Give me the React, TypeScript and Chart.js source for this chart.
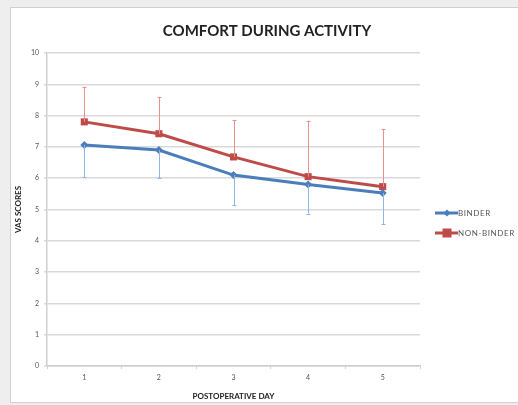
import React, { useEffect, useRef } from "react";
import { Chart, registerables } from "chart.js";

Chart.register(...registerables);

const days = ["1", "2", "3", "4", "5"];
const binder = [7.06, 6.9, 6.1, 5.8, 5.53];
const nonBinder = [7.8, 7.42, 6.68, 6.05, 5.73];
const binderLower = [6.04, 6.0, 5.14, 4.87, 4.54];
const nonBinderUpper = [8.92, 8.6, 7.86, 7.84, 7.57];

const BLUE = "#4a7ebb";
const RED = "#be4b48";
const FONT = "Lato, 'Open Sans', sans-serif";

const errorBarPlugin = {
  id: "errorBars",
  afterDatasetsDraw(chart: any) {
    const ctx = chart.ctx;
    const x = chart.scales.x;
    const y = chart.scales.y;
    const draw = (vals: number[], ends: number[], color: string) => {
      ctx.save();
      ctx.strokeStyle = color;
      ctx.lineWidth = 1;
      vals.forEach((v, i) => {
        const px = Math.round(x.getPixelForValue(i)) + 0.5;
        const y0 = y.getPixelForValue(v);
        const y1 = y.getPixelForValue(ends[i]);
        ctx.beginPath();
        ctx.moveTo(px, y0);
        ctx.lineTo(px, y1);
        ctx.moveTo(px - 2, Math.round(y1) + 0.5);
        ctx.lineTo(px + 2, Math.round(y1) + 0.5);
        ctx.stroke();
      });
      ctx.restore();
    };
    draw(binder, binderLower, "#8fb4ec");
    draw(nonBinder, nonBinderUpper, "#ec8f8f");
  },
};

const titlePlugin = {
  id: "customTitle",
  afterDraw(chart: any) {
    const ctx = chart.ctx;
    ctx.save();
    ctx.fillStyle = "#222";
    ctx.font = `bold 15px ${FONT}`;
    ctx.textAlign = "center";
    ctx.textBaseline = "middle";
    ctx.fillText("COMFORT DURING ACTIVITY", 267, 31);
    ctx.restore();
  },
};

const legendPlugin = {
  id: "customLegend",
  afterDraw(chart: any) {
    const ctx = chart.ctx;
    const items = [
      { label: "BINDER", color: BLUE, style: "rectRot", r: 3.5 },
      { label: "NON-BINDER", color: RED, style: "rect", r: 4.5 },
    ];
    const x0 = chart.chartArea.right + 15;
    items.forEach((it, i) => {
      const yy = 213 + i * 20;
      ctx.save();
      ctx.strokeStyle = it.color;
      ctx.lineWidth = 3;
      ctx.beginPath();
      ctx.moveTo(x0, yy);
      ctx.lineTo(x0 + 23, yy);
      ctx.stroke();
      ctx.fillStyle = it.color;
      if (it.style === "rect") {
        ctx.fillRect(x0 + 12 - it.r, yy - it.r, it.r * 2, it.r * 2);
      } else {
        ctx.beginPath();
        ctx.moveTo(x0 + 12, yy - it.r);
        ctx.lineTo(x0 + 12 + it.r, yy);
        ctx.lineTo(x0 + 12, yy + it.r);
        ctx.lineTo(x0 + 12 - it.r, yy);
        ctx.closePath();
        ctx.fill();
      }
      ctx.fillStyle = "#555";
      ctx.font = `8px ${FONT}`;
      ctx.letterSpacing = "0.6px";
      ctx.textBaseline = "middle";
      ctx.textAlign = "left";
      ctx.fillText(it.label, x0 + 23, yy + 0.5);
      ctx.restore();
    });
  },
};

export default function App() {
  const ref = useRef<HTMLCanvasElement>(null);
  useEffect(() => {
    if (!ref.current) return;
    const chart = new Chart(ref.current, {
      type: "line",
      data: {
        labels: days,
        datasets: [
          {
            label: "BINDER",
            data: binder,
            borderColor: BLUE,
            backgroundColor: BLUE,
            borderWidth: 3,
            pointStyle: "rectRot",
            pointRadius: 4,
            pointBorderWidth: 0,
            tension: 0,
          },
          {
            label: "NON-BINDER",
            data: nonBinder,
            borderColor: RED,
            backgroundColor: RED,
            borderWidth: 3,
            pointStyle: "rect",
            pointRadius: 5,
            pointBorderWidth: 0,
            tension: 0,
          },
        ],
      },
      options: {
        animation: false,
        responsive: false,
        maintainAspectRatio: false,
        layout: { padding: { left: 14, right: 98, top: 53, bottom: 4 } },
        plugins: {
          legend: { display: false },
          tooltip: { enabled: false },
          title: { display: false },
        },
        scales: {
          x: {
            offset: true,
            grid: {
              drawOnChartArea: false,
              drawTicks: true,
              tickLength: 3,
              offset: true,
              color: "#cfcfcf",
            },
            border: { display: true, color: "#cfcfcf", width: 1.5 },
            ticks: { color: "#555", font: { family: FONT, size: 7 }, padding: 5 },
            title: {
              display: true,
              text: "POSTOPERATIVE DAY",
              color: "#222",
              font: { family: FONT, size: 8, weight: "bold" },
              padding: { top: 3, bottom: 0 },
            },
            afterFit(scale: any) {
              scale.height = 35;
            },
          },
          y: {
            min: 0,
            max: 10,
            ticks: {
              stepSize: 1,
              color: "#555",
              font: { family: FONT, size: 7 },
              padding: 5,
            },
            grid: { color: "#d9d9d9", lineWidth: 1.5, tickLength: 3 },
            border: { display: true, color: "#cfcfcf", width: 1.5 },
            title: {
              display: true,
              text: "VAS SCORES",
              color: "#222",
              font: { family: FONT, size: 8, weight: "bold" },
              padding: 0,
            },
            afterFit(scale: any) {
              scale.width = 33;
            },
          },
        },
      },
      plugins: [errorBarPlugin, legendPlugin, titlePlugin],
    });
    return () => chart.destroy();
  }, []);

  return (
    <div
      style={{
        position: "fixed",
        left: 0,
        top: 0,
        width: 518,
        height: 405,
        background: "#eeeeee",
        overflow: "hidden",
      }}
    >
      <div
        style={{
          position: "absolute",
          left: 10,
          top: 7,
          width: 520,
          height: 396,
          background: "#ffffff",
          border: "1px solid #d0d0d0",
          boxSizing: "border-box",
        }}
      />
      <canvas
        ref={ref}
        width={518}
        height={405}
        style={{ position: "absolute", left: 0, top: 0, width: 518, height: 405 }}
      />
    </div>
  );
}
